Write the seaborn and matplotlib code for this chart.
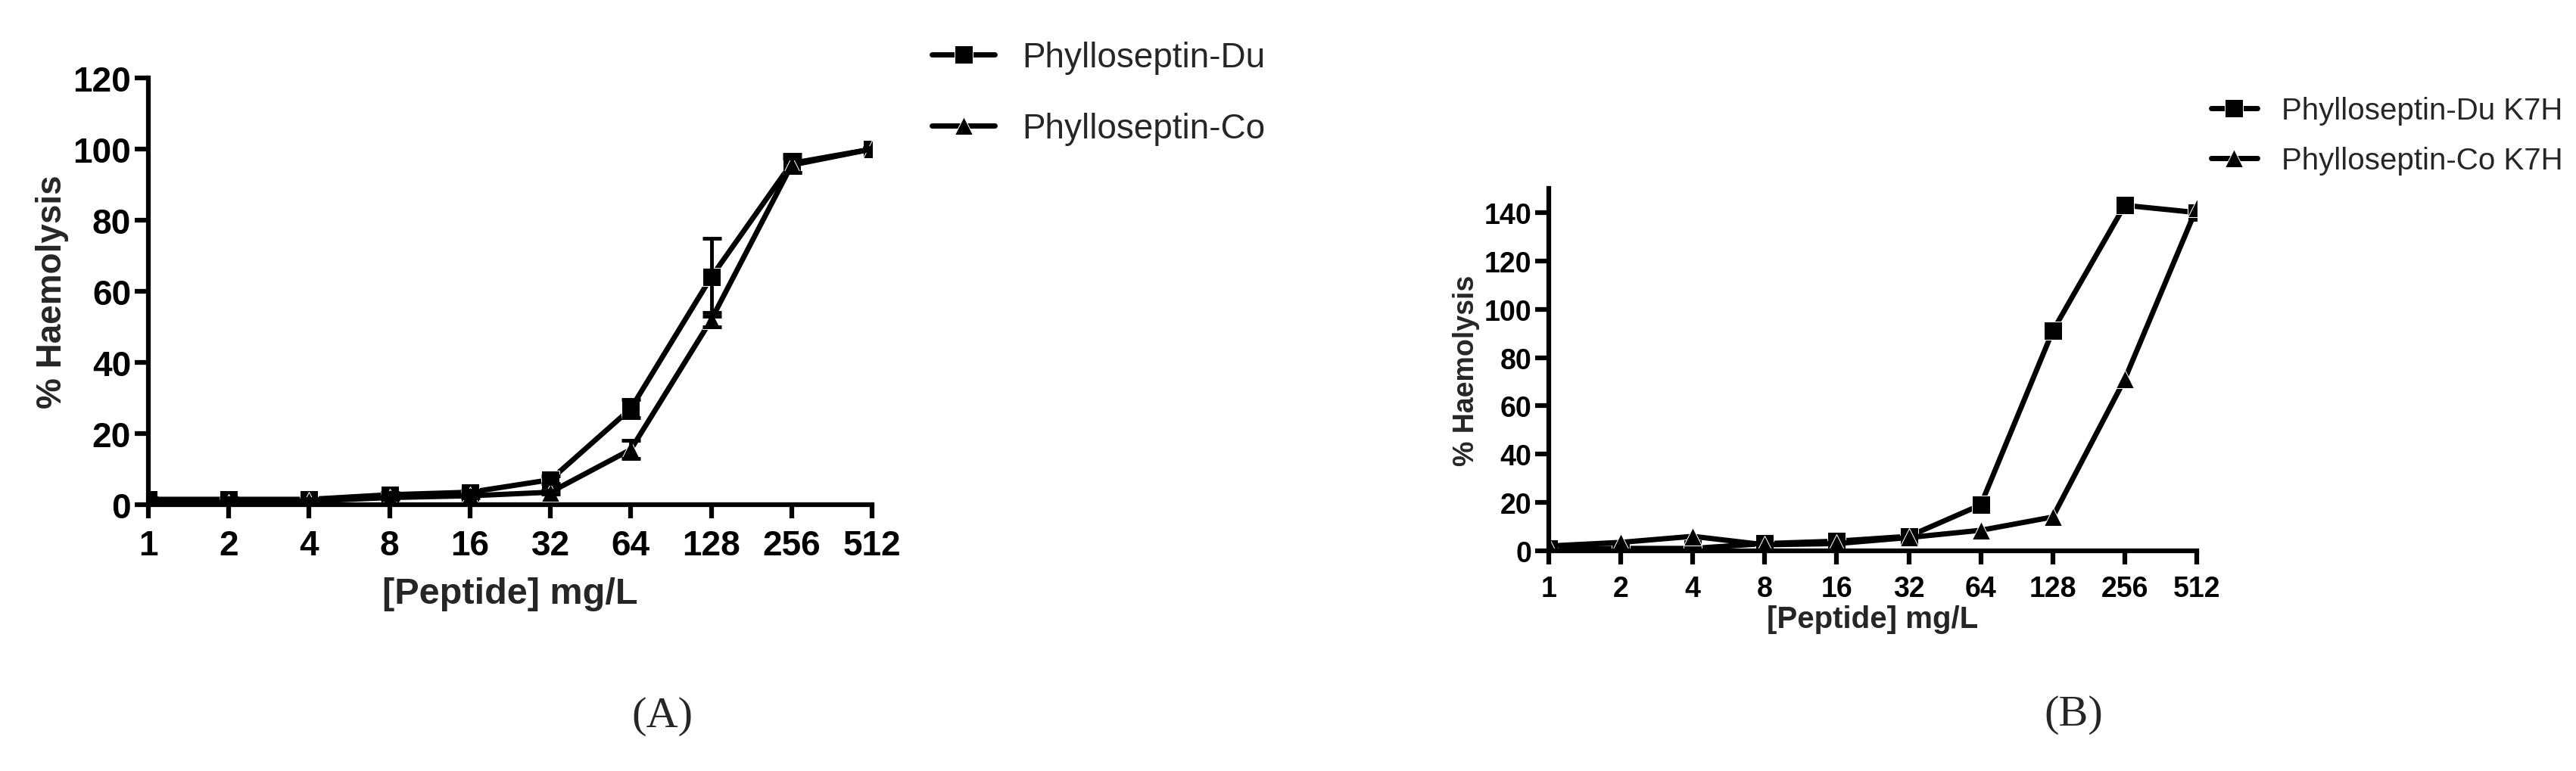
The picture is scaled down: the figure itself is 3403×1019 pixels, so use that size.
import matplotlib
matplotlib.use("Agg")
import matplotlib.pyplot as plt
import seaborn as sns
import numpy as np
import pandas as pd

sns.set_theme(style="ticks")
plt.rcParams['font.family'] = ['Liberation Sans Narrow', 'Liberation Sans', 'DejaVu Sans']

conc = ["1", "2", "4", "8", "16", "32", "64", "128", "256", "512"]
a_du = [1.5, 1.5, 1.5, 2.8, 3.5, 7.0, 27.0, 64.0, 96.0, 100.0]
a_du_err = [0.5, 0.5, 0.3, 0.5, 0.5, 1.0, 2.5, 11.0, 2.5, 0.5]
a_co = [0.5, 0.5, 1.0, 2.0, 2.5, 3.5, 15.5, 52.0, 95.5, 100.0]
a_co_err = [0.3, 0.3, 0.3, 0.5, 0.5, 0.5, 2.5, 2.0, 2.0, 0.3]
b_du = [1.0, 1.0, 1.0, 3.0, 4.0, 6.0, 19.0, 91.0, 143.0, 140.0]
b_co = [2.0, 3.5, 6.0, 2.5, 3.0, 5.5, 8.5, 14.0, 71.0, 142.0]

W, H = 3403, 1020
fig = plt.figure(figsize=(W / 100, H / 100), dpi=100)

def px(l, t, r, b):
    return [l / W, 1 - b / H, (r - l) / W, (b - t) / H]

def panel(ax, du, co, labels, ylim, yticks, du_err=None, co_err=None, fs=26):
    x = np.arange(len(conc))
    df = pd.DataFrame({"x": np.concatenate([x, x]),
                       "y": du + co,
                       "s": [labels[0]] * len(x) + [labels[1]] * len(x)})
    sns.lineplot(data=df, x="x", y="y", hue="s", style="s",
                 markers={labels[0]: "s", labels[1]: "^"}, dashes=False,
                 palette={labels[0]: "black", labels[1]: "black"},
                 linewidth=5, markersize=17, ax=ax, legend=True)
    if du_err is not None:
        ax.errorbar(x, du, yerr=du_err, fmt="none", ecolor="black", elinewidth=3.5, capsize=9, capthick=3.5)
        ax.errorbar(x, co, yerr=co_err, fmt="none", ecolor="black", elinewidth=3.5, capsize=9, capthick=3.5)
    ax.set_xlim(0, len(conc) - 1)
    ax.set_ylim(*ylim)
    ax.set_xticks(x)
    ax.set_xticklabels(conc)
    ax.set_yticks(yticks)
    for s in ["top", "right"]:
        ax.spines[s].set_visible(False)
    for s in ["left", "bottom"]:
        ax.spines[s].set_linewidth(4.5)
        ax.spines[s].set_color("black")
    ax.tick_params(width=4.5, length=13, labelsize=fs, colors="black")
    ax.tick_params(axis="x", pad=10)
    for t in ax.get_xticklabels() + ax.get_yticklabels():
        t.set_fontweight("bold")
    ax.set_xlabel("[Peptide] mg/L", fontsize=fs + 2, fontweight="bold")
    ax.set_ylabel("% Haemolysis", fontsize=fs, fontweight="bold", family="Liberation Sans")
    return ax

axA = fig.add_axes(px(196, 104, 1152, 668))
panel(axA, a_du, a_co, ["Phylloseptin-Du", "Phylloseptin-Co"], (0, 120),
      [0, 20, 40, 60, 80, 100, 120], a_du_err, a_co_err, fs=33)
axA.xaxis.labelpad = 14
axA.legend(loc="upper left", bbox_to_anchor=(1.04, 1.16), frameon=False, fontsize=33,
           labelspacing=1.1, handlelength=1.8, title=None)
axA.text(0.71, -0.52, "(A)", transform=axA.transAxes, ha="center", fontsize=42,
         family="Liberation Serif")

axB = fig.add_axes(px(2046, 250, 2902, 729))
panel(axB, b_du, b_co, ["Phylloseptin-Du K7H", "Phylloseptin-Co K7H"], (0, 150),
      [0, 20, 40, 60, 80, 100, 120, 140], fs=27)
axB.legend(loc="upper left", bbox_to_anchor=(0.98, 1.33), frameon=False, fontsize=29,
           labelspacing=0.7, handlelength=1.5, title=None)
axB.xaxis.labelpad = 2
axB.text(0.81, -0.48, "(B)", transform=axB.transAxes, ha="center", fontsize=42,
         family="Liberation Serif")

fig.savefig("out.png", dpi=100, facecolor="white")
